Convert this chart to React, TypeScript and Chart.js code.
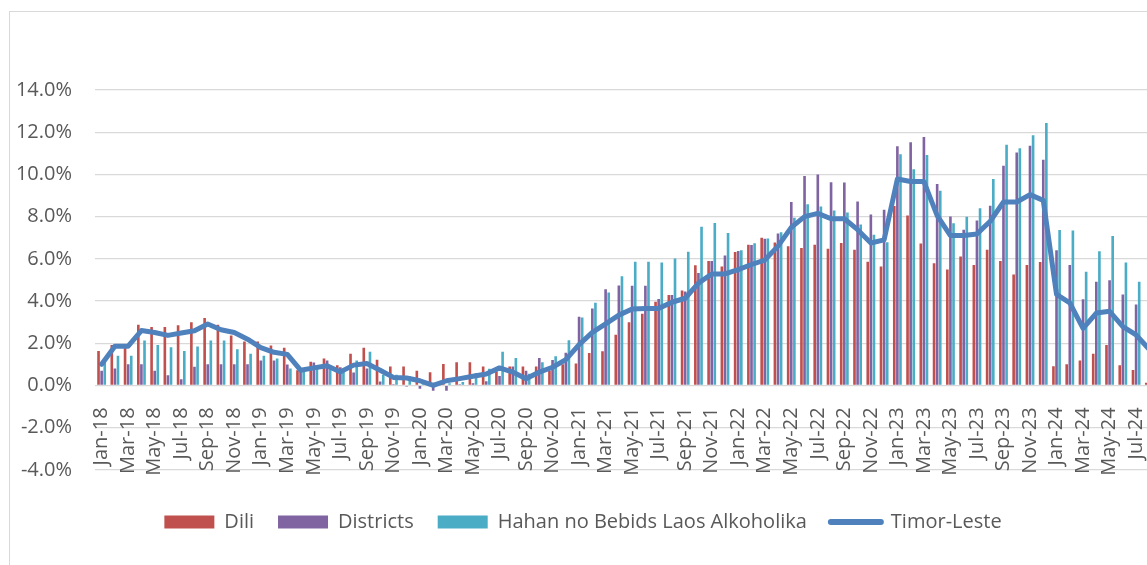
import React, { useEffect, useRef } from 'react';
import { Chart, registerables } from 'chart.js';

Chart.register(...registerables);

const months = [
  'Jan-18','Feb-18','Mar-18','Apr-18','May-18','Jun-18','Jul-18','Aug-18','Sep-18','Oct-18','Nov-18','Dec-18',
  'Jan-19','Feb-19','Mar-19','Apr-19','May-19','Jun-19','Jul-19','Aug-19','Sep-19','Oct-19','Nov-19','Dec-19',
  'Jan-20','Feb-20','Mar-20','Apr-20','May-20','Jun-20','Jul-20','Aug-20','Sep-20','Oct-20','Nov-20','Dec-20',
  'Jan-21','Feb-21','Mar-21','Apr-21','May-21','Jun-21','Jul-21','Aug-21','Sep-21','Oct-21','Nov-21','Dec-21',
  'Jan-22','Feb-22','Mar-22','Apr-22','May-22','Jun-22','Jul-22','Aug-22','Sep-22','Oct-22','Nov-22','Dec-22',
  'Jan-23','Feb-23','Mar-23','Apr-23','May-23','Jun-23','Jul-23','Aug-23','Sep-23','Oct-23','Nov-23','Dec-23',
  'Jan-24','Feb-24','Mar-24','Apr-24','May-24','Jun-24','Jul-24','Aug-24',
];

// values in percent
const dili = [
  1.63, 1.92, 1.79, 2.88, 2.77, 2.77, 2.85, 2.99, 3.20, 2.88, 2.37, 2.08,
  2.08, 1.89, 1.79, 0.72, 1.12, 1.28, 0.96, 1.50, 1.79, 1.22, 0.90, 0.90,
  0.70, 0.62, 1.02, 1.10, 1.10, 0.90, 0.67, 0.89, 0.89, 0.89, 0.70, 1.00,
  1.04, 1.54, 1.62, 2.40, 2.99, 3.39, 3.97, 4.29, 4.50, 5.70, 5.89, 5.63,
  6.32, 6.67, 7.00, 6.77, 6.60, 6.51, 6.67, 6.48, 6.75, 6.43, 5.86, 5.63,
  8.50, 8.05, 6.73, 5.79, 5.49, 6.11, 5.71, 6.43, 5.89, 5.26, 5.71, 5.85,
  0.91, 1.00, 1.18, 1.50, 1.91, 0.96, 0.73, 0.13,
];

const districts = [
  0.69, 0.80, 1.00, 1.00, 0.70, 0.48, 0.29, 0.88, 1.00, 1.00, 1.00, 1.00,
  1.18, 1.18, 0.99, 0.64, 1.09, 1.18, 0.86, 0.61, 0.80, 0.19, 0.05, -0.05,
  -0.16, -0.25, -0.25, 0.05, 0.10, 0.20, 0.45, 0.89, 0.70, 1.30, 1.20, 1.55,
  3.25, 3.65, 4.56, 4.74, 4.72, 4.72, 4.10, 4.29, 4.45, 5.33, 5.89, 6.16,
  6.37, 6.65, 6.95, 7.20, 8.69, 9.92, 10.00, 9.63, 9.62, 8.72, 8.10, 8.33,
  11.33, 11.52, 11.77, 9.54, 8.00, 7.38, 7.81, 8.52, 10.41, 11.04, 11.36, 10.69,
  6.41, 5.71, 4.08, 4.91, 4.98, 4.31, 3.83, 3.20,
];

const hahan = [
  1.12, 1.41, 1.41, 2.13, 1.92, 1.81, 1.63, 1.84, 2.13, 2.13, 1.71, 1.50,
  1.41, 1.28, 0.80, 0.64, 0.80, 0.80, 0.64, 1.18, 1.60, 0.50, 0.50, 0.43,
  0.19, 0.05, 0.10, 0.16, 0.59, 0.79, 1.59, 1.30, 0.55, 1.10, 1.38, 2.14,
  3.22, 3.92, 4.40, 5.17, 5.86, 5.86, 5.82, 6.02, 6.34, 7.52, 7.70, 7.22,
  6.40, 6.74, 6.96, 7.26, 7.94, 8.58, 8.48, 8.29, 8.20, 7.62, 7.14, 6.78,
  10.95, 10.24, 10.92, 9.22, 7.69, 7.99, 8.39, 9.78, 11.40, 11.24, 11.85, 12.44,
  7.37, 7.34, 5.39, 6.36, 7.08, 5.82, 4.91, 4.30,
];

const timorLeste = [
  1.00, 1.86, 1.86, 2.60, 2.51, 2.37, 2.48, 2.59, 2.91, 2.64, 2.51, 2.19,
  1.79, 1.57, 1.47, 0.72, 0.83, 0.93, 0.64, 0.96, 1.04, 0.72, 0.38, 0.35,
  0.22, 0.00, 0.22, 0.32, 0.43, 0.54, 0.83, 0.63, 0.32, 0.63, 0.86, 1.22,
  1.93, 2.51, 2.92, 3.33, 3.62, 3.65, 3.65, 3.94, 4.13, 4.85, 5.28, 5.28,
  5.49, 5.73, 5.94, 6.60, 7.49, 8.00, 8.15, 7.90, 7.90, 7.38, 6.75, 6.90,
  9.78, 9.66, 9.66, 8.05, 7.10, 7.10, 7.18, 7.78, 8.69, 8.69, 9.04, 8.77,
  4.31, 3.91, 2.70, 3.43, 3.51, 2.79, 2.39, 1.70,
];

const seriesNames = ['Dili', 'Districts', 'Hahan no Bebids Laos Alkoholika', 'Timor-Leste'];
const seriesColors = ['#c0504d', '#8064a2', '#4bacc6', '#4f81bd'];

const FONT = '"Open Sans", "Noto Sans", sans-serif';
const TEXT = '#595959';

export default function App() {
  const ref = useRef<HTMLCanvasElement | null>(null);

  useEffect(() => {
    if (!ref.current) return;
    const bar = (label: string, data: number[], color: string) => ({
      type: 'bar' as const,
      label,
      data,
      backgroundColor: color,
      borderWidth: 0,
      categoryPercentage: 0.7,
      barPercentage: 0.85,
      order: 1,
    });
    const chart = new Chart(ref.current, {
      type: 'bar',
      data: {
        labels: months,
        datasets: [
          bar(seriesNames[0], dili, seriesColors[0]),
          bar(seriesNames[1], districts, seriesColors[1]),
          bar(seriesNames[2], hahan, seriesColors[2]),
          {
            type: 'line' as const,
            label: seriesNames[3],
            data: timorLeste,
            borderColor: seriesColors[3],
            backgroundColor: seriesColors[3],
            borderWidth: 5,
            pointRadius: 0,
            tension: 0,
            borderJoinStyle: 'round',
            borderCapStyle: 'round',
            order: 0,
          } as any,
        ],
      },
      options: {
        responsive: false,
        animation: false,
        devicePixelRatio: 1,
        layout: { padding: { left: 0, top: 78, right: 4, bottom: 10 } },
        plugins: {
          tooltip: { enabled: false },
          legend: {
            position: 'bottom',
            title: { display: true, text: '', font: { size: 1 }, padding: { top: 17, bottom: 0 } } as any,
            labels: {
              usePointStyle: true,
              pointStyleWidth: 50,
              boxWidth: 50,
              boxHeight: 13,
              padding: 24,
              color: TEXT,
              font: { family: FONT, size: 20 },
              sort: (a: any, b: any) => a.datasetIndex - b.datasetIndex,
              generateLabels: (c: Chart) => {
                const items = Chart.defaults.plugins.legend.labels.generateLabels(c);
                return items.map((it: any) => {
                  const isLine = it.datasetIndex === 3;
                  return {
                    ...it,
                    pointStyle: isLine ? 'line' : 'rect',
                    lineWidth: isLine ? 6 : 0,
                    lineCap: 'round',
                    strokeStyle: seriesColors[it.datasetIndex],
                    fillStyle: seriesColors[it.datasetIndex],
                  };
                });
              },
            },
          },
        },
        scales: {
          x: {
            position: { y: 0 } as any,
            offset: true,
            afterFit: (s: any) => { s.paddingLeft = 0; s.paddingRight = 0; },
            grid: { display: false, drawTicks: false },
            border: { display: false },
            ticks: {
              autoSkip: false,
              minRotation: 90,
              maxRotation: 90,
              padding: 22,
              color: TEXT,
              font: { family: FONT, size: 20 },
              callback: (_v: any, i: number) => (i % 2 === 0 ? months[i] : ''),
            },
          },
          y: {
            min: -4,
            max: 14,
            afterFit: (s: any) => { s.width = 85; },
            grid: { color: '#d9d9d9', lineWidth: 1.2, drawTicks: false },
            border: { display: false },
            ticks: {
              stepSize: 2,
              padding: 23,
              color: TEXT,
              font: { family: FONT, size: 20 },
              callback: (v: any) => `${Number(v).toFixed(1)}%`,
            },
          },
        },
      } as any,
    });
    return () => chart.destroy();
  }, []);

  return (
    <div style={{ position: 'fixed', inset: 0, overflow: 'hidden', background: '#fff' }}>
      <div
        style={{
          position: 'absolute', left: 9, top: 11, width: 1170, height: 600,
          border: '1px solid #d9d9d9', boxSizing: 'border-box',
        }}
      >
        <canvas ref={ref} width={1150} height={540} style={{ position: 'absolute', left: 0, top: 0 }} />
      </div>
    </div>
  );
}
